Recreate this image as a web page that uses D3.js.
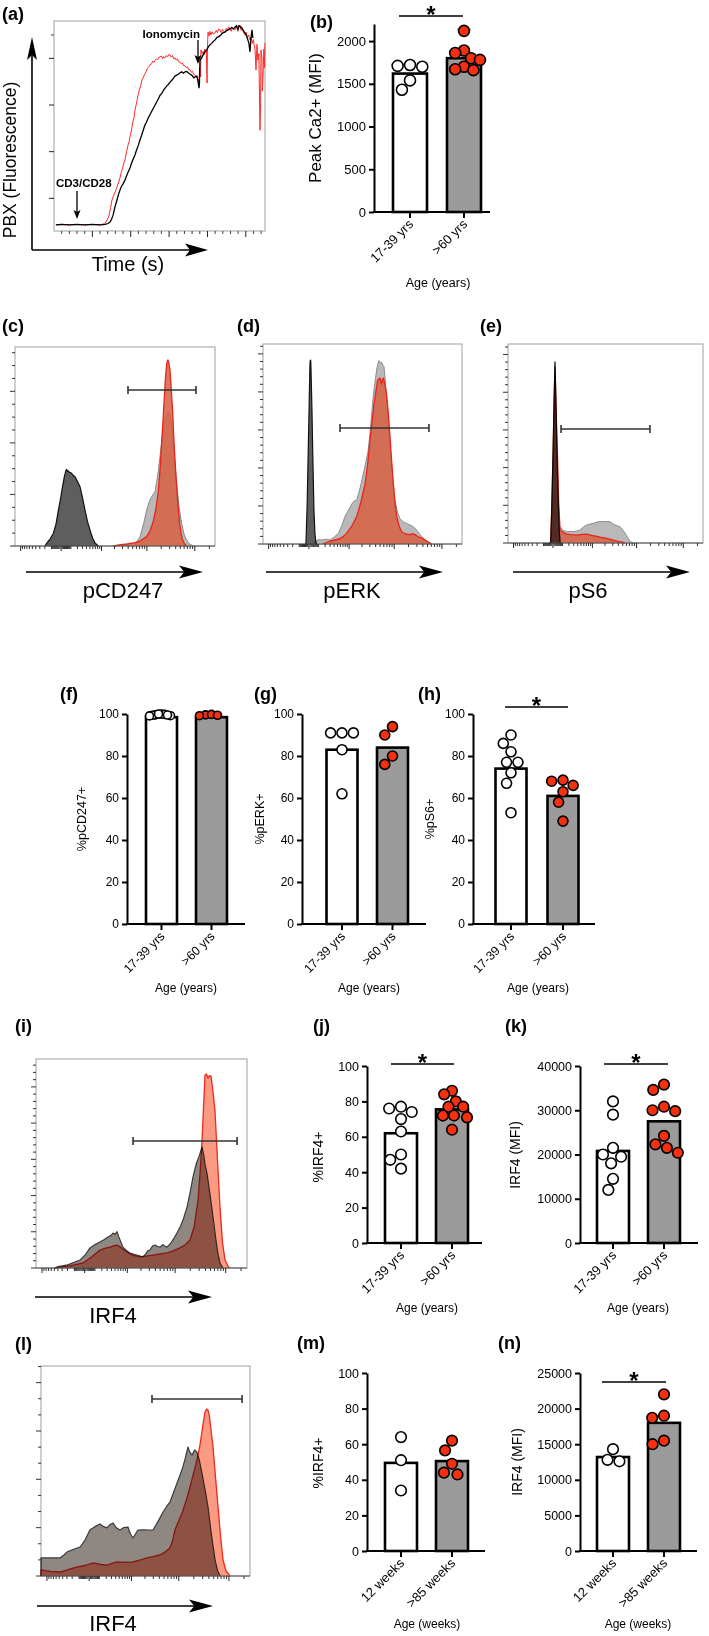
<!DOCTYPE html>
<html><head><meta charset="utf-8">
<script src="https://cdn.jsdelivr.net/npm/d3@7"></script>
<style>body{margin:0;background:#fff}svg{display:block}</style>
</head><body><script>
// ---------------- DATA ----------------
const ageCats = ["17-39 yrs", ">60 yrs"];
const mouseCats = ["12 weeks", ">85 weeks"];

// (a) calcium flux traces [time, fluorescence]
const blackTrace = [[10,43],[40,44],[80,43],[120,44],[160,43],[200,44],[240,43],[266,44],[282,46],[292,49],[300,55],[308,64],[318,82],[328,96],[336,108],[344,118],[352,126],[360,131],[370,139],[378,148],[386,156],[396,165],[404,175],[412,183],[422,193],[430,203],[440,214],[448,225],[456,234],[466,247],[474,257],[482,263],[490,271],[500,279],[510,287],[518,293],[527,300],[536,307],[544,313],[553,321],[562,325],[570,331],[579,336],[588,341],[596,344],[605,349],[614,353],[622,357],[631,362],[640,364],[648,366],[657,369],[666,371],[675,368],[683,371],[692,372],[700,369],[709,366],[718,364],[726,360],[730,358],[738,361],[745,362],[750,352],[756,336],[758,345],[761,396],[770,401],[778,408],[787,414],[796,418],[804,424],[813,429],[822,432],[830,436],[839,439],[848,444],[856,446],[865,448],[874,452],[882,455],[891,456],[900,459],[908,461],[917,463],[926,466],[935,463],[944,467],[952,470],[959,461],[965,470],[970,469],[978,465],[986,460],[996,454],[1004,448],[1011,439],[1016,432],[1022,414],[1026,440],[1032,461],[1037,444]];
const redTrace = [[10,43],[40,44],[80,43],[120,44],[160,43],[200,44],[240,43],[250,44],[262,46],[271,49],[280,56],[287,64],[295,80],[302,96],[312,107],[323,118],[334,131],[344,144],[352,158],[358,165],[364,176],[370,182],[378,200],[386,214],[392,222],[397,234],[401,240],[406,251],[412,265],[417,272],[422,289],[428,300],[433,310],[438,321],[445,332],[452,342],[459,354],[466,360],[473,366],[480,371],[487,378],[494,382],[500,386],[508,388],[515,394],[520,391],[527,396],[534,399],[540,397],[546,402],[553,403],[560,405],[566,399],[572,404],[579,401],[586,406],[592,403],[598,408],[605,407],[612,402],[618,406],[624,399],[631,401],[638,396],[644,399],[650,393],[657,392],[664,388],[670,390],[676,384],[683,384],[690,380],[696,382],[702,376],[709,375],[716,370],[722,372],[728,366],[735,364],[742,360],[748,357],[752,355],[756,351],[760,380],[764,360],[766,418],[772,410],[778,415],[782,407],[786,420],[790,413],[794,418],[798,347],[800,420],[803,456],[808,448],[812,458],[818,450],[824,457],[830,452],[839,454],[846,460],[852,455],[858,463],[865,461],[872,455],[878,462],[884,458],[891,456],[898,464],[904,460],[910,467],[917,465],[924,458],[930,466],[937,462],[944,461],[950,468],[956,463],[962,470],[970,467],[976,460],[982,466],[988,455],[996,450],[1002,456],[1008,445],[1015,450],[1022,439],[1028,446],[1034,432],[1040,440],[1043,429],[1048,420],[1053,375],[1058,430],[1063,396],[1068,410],[1070,360],[1074,246],[1077,300],[1079,418],[1084,400],[1086,330],[1090,364],[1094,420],[1097,380],[1100,433]];
const timeMajorTicks = [200,400,600,800,1000];
const fluoMajorTicks = [100,200,300,400];
const fluoMinorTicks = [450];

// (b)
const peakCaBars = [1620, 1800];
const peakCaYoung = [1720, 1710, 1700, 1540, 1430];
const peakCaOld = [2120, 1890, 1860, 1800, 1780, 1700, 1670, 1660];
const peakCaTicks = [0,500,1000,1500,2000];

// (f)(g)(h)
const pctTicks = [0,20,40,60,80,100];
const pCD247Bars = [98.5, 98.5];
const pCD247Young = [100, 99.6, 99.2, 99.8, 99.4, 100, 99.5, 99.1];
const pCD247Old = [99.6, 99.2, 99.8, 99.4];
const pERKBars = [83, 84];
const pERKYoung = [91, 91, 91, 83, 62];
const pERKOld = [94, 90, 80, 76];
const pS6Bars = [74, 61];
const pS6Young = [90, 86, 82, 77, 77, 72, 67, 53];
const pS6Old = [68.5, 68, 66, 63, 58, 49];

// (j)(k)
const irf4PctBars = [62, 75.5];
const irf4PctYoung = [77, 76, 74, 70, 63, 50, 47, 42];
const irf4PctOld = [86, 84, 80, 77, 77, 72, 72, 71, 64];
const irf4MfiTicks = [0,10000,20000,30000,40000];
const irf4MfiBars = [20800, 27500];
const irf4MfiYoung = [32000, 29000, 21500, 20000, 19500, 18000, 14500, 12000];
const irf4MfiOld = [35800, 34600, 30800, 30000, 29800, 24200, 22300, 21500, 20400];

// (m)(n)
const mIrf4PctBars = [49.5, 50.5];
const mIrf4PctYoung = [64, 51, 34];
const mIrf4PctOld = [62, 56.5, 49, 44, 43];
const mIrf4MfiTicks = [0,5000,10000,15000,20000,25000];
const mIrf4MfiBars = [13200, 18000];
const mIrf4MfiYoung = [14300, 12800, 12600];
const mIrf4MfiOld = [22000, 19000, 18700, 15500, 15000];

// flow histograms [channel 0-1000, % of max height]
const cGray = [[600,0],[605,1.5],[625,4.7],[645,12],[658,18],[670,22],[683,24.8],[700,27.3],[708,32],[717,38],[725,45],[733,51.7],[742,58],[750,63],[758,66],[767,67.5],[772,67],[778,65],[785,59],[792,51.7],[800,41],[808,31.7],[820,20],[833,11.5],[845,6],[858,3],[870,1.2],[883,0.5],[890,0]];
const cRed = [[492,0],[520,0.5],[560,1],[592,1.5],[625,2.5],[658,4.7],[675,7.5],[692,12.6],[705,19],[717,28],[725,38],[733,51.7],[740,63],[747,75],[752,84],[758,91],[762,93],[765,93.5],[769,92],[775,88.4],[781,79],[788,68],[796,50],[805,34.8],[815,20],[825,9.7],[835,4],[845,1.5],[858,0]];
const cDark = [[150,0],[158,1.3],[175,3.5],[192,6.4],[205,11],[217,18],[228,24],[238,30],[247,35],[255,38],[258,38.5],[262,37.5],[267,37.8],[272,37],[278,36.8],[283,36.5],[290,35.6],[300,34.8],[312,32.5],[325,29.8],[338,24],[350,18],[362,12.5],[375,8],[388,4],[400,1.5],[417,0]];
const dGray = [[258,0],[261,1],[278,2.2],[295,2],[315,2.4],[337,2],[358,3.5],[379,5.3],[395,9],[412,13.7],[430,17],[446,20],[458,21.5],[471,22],[488,28],[504,35],[517,41],[529,47],[542,60],[554,73.7],[563,81],[571,87],[577,90],[583,91.7],[589,90.5],[596,91],[602,89.5],[608,88.7],[614,82],[621,73.7],[630,62],[638,50.3],[650,35],[663,22],[675,16],[688,12.8],[705,11],[722,10.3],[738,9.5],[755,8.7],[772,7],[789,4.7],[805,3],[822,1.5],[847,0]];
const dRed = [[300,0],[337,1.5],[362,2],[387,2.7],[404,3.8],[420,5.3],[446,9],[471,13.7],[492,21],[513,30],[526,40],[538,52],[548,61],[558,70],[567,76],[576,82],[582,82.5],[588,83],[592,81],[596,80],[600,82],[605,83],[612,80],[621,75],[630,65],[638,53.7],[646,42],[655,30],[663,21],[672,13.7],[684,9],[697,6],[718,5],[739,4.7],[752,5.2],[764,4.7],[780,3.6],[797,3],[814,2],[831,1],[847,0]];
const dDark = [[214,0],[216,0.5],[222,20],[228,50],[233,75],[236,90],[238,92],[240,91.5],[243,80],[246,67],[250,45],[256,17],[261,5],[266,0.7],[270,0]];
const eGray = [[262,0],[267,8.2],[280,6.5],[301,5.7],[318,5.8],[335,5.7],[352,6],[369,6.5],[386,8],[403,9],[420,9.5],[438,9.9],[455,10.5],[472,10.7],[490,10.8],[510,10.8],[523,10.7],[536,9.8],[549,9],[562,8.6],[574,8.2],[587,6.8],[600,5],[613,2.8],[626,0.8],[643,0]];
const eRed = [[214,0],[219,0.5],[225,18],[232,46.7],[237,72],[241,88.6],[246,70],[253,46.7],[260,20],[267,6.5],[280,5.5],[301,4.5],[325,4.2],[352,4],[378,4.3],[403,4.5],[430,3.8],[450,3.5],[472,3],[500,2.5],[520,2],[540,1.5],[565,0.8],[591,0.3],[600,0]];
const eDark = [[214,0],[219,0.5],[225,20],[232,50],[237,75],[241,91],[245,75],[250,50],[258,20],[263,6],[267,0.5],[270,0]];
const iGray = [[90,0],[100,0.5],[150,1.5],[209,3.8],[235,6.5],[256,9.6],[280,11.2],[303,12.4],[322,13.5],[341,14.8],[355,15.5],[365,16.7],[375,16.2],[384,17.4],[392,15],[400,13],[412,10],[428,8.4],[445,7.2],[465,6.5],[485,6],[507,5.3],[520,6.8],[530,8.2],[540,8.6],[552,10.5],[564,11],[576,10.3],[588,10],[600,11.2],[610,10.5],[621,10],[640,12],[655,14.5],[668,16.7],[685,20],[700,24],[716,29.2],[730,36],[744,43.5],[760,50],[775,54],[787,57.9],[795,54],[802,49],[810,45.5],[825,35],[839,24.4],[852,14],[862,7],[872,2.4],[886,0]];
const iRed = [[90,0],[110,0.4],[160,1],[223,2.4],[260,5],[303,8.6],[330,9.5],[351,10],[368,10.6],[384,11],[400,10],[412,9],[431,7.7],[460,6],[493,5.3],[520,5.7],[554,6.2],[590,6.8],[621,7.2],[650,8.2],[682,9.6],[706,11],[730,13.4],[750,20],[768,32.5],[778,46],[787,61.2],[794,77],[801,92.3],[808,92.8],[815,90.9],[822,92],[829,91.9],[838,85],[848,75.6],[860,52],[872,29.2],[884,12],[896,3.8],[910,0.8],[919,0]];
const lGray = [[0,0],[0,8.6],[45,8.6],[91,8.6],[110,10],[124,11.4],[150,12.5],[187,13.8],[210,17],[234,21.9],[258,23.5],[282,24.8],[300,23.5],[316,22.9],[330,24.5],[345,25.2],[360,23],[378,21.9],[395,23],[416,23.3],[428,20],[440,18.1],[452,20],[464,21.9],[490,22],[512,21.9],[536,21.9],[560,26],[584,30.5],[600,33],[617,35.2],[635,40],[651,44.3],[665,48],[679,51.9],[690,56],[703,61.4],[712,59],[723,57.6],[735,60],[746,59],[758,55],[770,49],[785,41],[799,32.9],[815,20],[833,7.6],[845,2.5],[857,0]];
const lRed = [[0,0],[0,2.9],[45,2.2],[91,1.9],[130,3],[170,4.2],[210,5],[249,6.2],[280,5.6],[316,5.2],[340,6],[364,6.7],[400,6.5],[440,6.7],[470,7.5],[507,8.6],[540,9.3],[569,10],[595,11.5],[617,13.3],[630,17],[641,21.9],[658,26],[675,30],[695,36],[713,42.4],[730,49],[746,55.2],[760,62],[770,68.6],[778,74],[785,78.1],[792,79.5],[799,79],[806,76],[813,70],[823,61.4],[835,47],[847,32.9],[860,18],[871,7.6],[885,2.5],[904,0]];
// gates [from channel, to channel, height %]
const gateC = [565, 905, 78.4];
const gateD = [387, 834, 58];
const gateE = [272, 728, 57.3];
const gateI = [460, 953, 60.8];
const gateL = [531, 962, 84.3];
const flowMajorTicks = [-1000, 0, 1000, 10000, 100000];
const flowMinorTicks = [-900,-800,-700,-600,-500,-400,-300,-200,-100,-90,-80,-70,-60,-50,-40,-30,-20,-10,10,20,30,40,50,60,70,80,90,100,200,300,400,500,600,700,800,900,2000,3000,4000,5000,6000,7000,8000,9000,20000,30000,40000,50000,60000,70000,80000,90000,200000];

// ---------------- DRAWING ----------------
const FONT = '"Liberation Sans", Arial, Helvetica, sans-serif';
const RED = "#f5300f";
const svg = d3.select("body").append("svg").attr("width",709).attr("height",1636)
  .attr("font-family",FONT);

function txt(g,x,y,s,size,opt={}){
  const t=g.append("text").attr("x",x).attr("y",y).attr("font-size",size).text(s).attr("fill","#000");
  if(opt.bold) t.attr("font-weight","bold");
  if(opt.anchor) t.attr("text-anchor",opt.anchor);
  if(opt.rot!==undefined) t.attr("transform",`rotate(${opt.rot},${x},${y})`);
  return t;
}
function hArrow(g,x0,x1,y,L,h,sw){
  g.append("line").attr("x1",x0).attr("x2",x1-L*0.7).attr("y1",y).attr("y2",y).attr("stroke","#000").attr("stroke-width",sw);
  g.append("path").attr("d",`M${x1},${y}L${x1-L},${y-h}L${x1-L*0.78},${y}L${x1-L},${y+h}Z`).attr("fill","#000");
}
function vArrowUp(g,x,y0,y1,L,h,sw){
  g.append("line").attr("x1",x).attr("x2",x).attr("y1",y0).attr("y2",y1+L*0.7).attr("stroke","#000").attr("stroke-width",sw);
  g.append("path").attr("d",`M${x},${y1}L${x-h},${y1+L}L${x},${y1+L*0.78}L${x+h},${y1+L}Z`).attr("fill","#000");
}
function vArrowDown(g,x,y0,y1,L,h,sw){
  g.append("line").attr("x1",x).attr("x2",x).attr("y1",y0).attr("y2",y1-L*0.7).attr("stroke","#000").attr("stroke-width",sw);
  g.append("path").attr("d",`M${x},${y1}L${x-h},${y1-L}L${x},${y1-L*0.78}L${x+h},${y1-L}Z`).attr("fill","#000");
}

// ----- panel (a)
(function(){
  const g=svg.append("g");
  const L=54,R=265,T=21,B=231;
  const x=d3.scaleLinear().domain([0,1100]).range([L,R]);
  const y=d3.scaleLinear().domain([30,480]).range([B,T]);
  g.append("rect").attr("x",L).attr("y",T).attr("width",R-L).attr("height",B-T).attr("fill","none").attr("stroke","#a0a0a0");
  const minorT=d3.range(40,1100,40).filter(d=>d%200!==0);
  g.selectAll(null).data(timeMajorTicks).join("line").attr("x1",d=>x(d)).attr("x2",d=>x(d)).attr("y1",B).attr("y2",B+6).attr("stroke","#222");
  g.selectAll(null).data(minorT).join("line").attr("x1",d=>x(d)).attr("x2",d=>x(d)).attr("y1",B).attr("y2",B+3).attr("stroke","#444");
  g.selectAll(null).data(fluoMajorTicks).join("line").attr("x1",L-5).attr("x2",L).attr("y1",d=>y(d)).attr("y2",d=>y(d)).attr("stroke","#222");
  g.selectAll(null).data(fluoMinorTicks).join("line").attr("x1",L-3).attr("x2",L).attr("y1",d=>y(d)).attr("y2",d=>y(d)).attr("stroke","#444");
  const line=d3.line().x(d=>x(d[0])).y(d=>y(d[1]));
  g.append("path").datum(redTrace).attr("d",line).attr("fill","none").attr("stroke","#ff2a2a").attr("stroke-width",1);
  g.append("path").datum(blackTrace).attr("d",line).attr("fill","none").attr("stroke","#000").attr("stroke-width",1.3);
  vArrowUp(g,32,250,37,23,5,1.6);
  hArrow(g,32,208,250,23,6.5,1.6);
  txt(g,16,160,"PBX (Fluorescence)",17.5,{anchor:"middle",rot:-90});
  txt(g,128,271,"Time (s)",20,{anchor:"middle"});
  txt(g,2,20,"(a)",18,{bold:true});
  txt(g,200,38,"Ionomycin",11.5,{bold:true,anchor:"end"});
  vArrowDown(g,198,40,64,9,3.5,1.3);
  txt(g,56,187,"CD3/CD28",11.5,{bold:true});
  vArrowDown(g,77,191,219,9,3.5,1.3);
})();

// ----- beeswarm
function swarm(values,y,r,maxHalf){
  const order=values.map((v,i)=>i).sort((a,b)=>values[b]-values[a]);
  const D=2*r+1.4, placed=[], xs=new Array(values.length);
  for(const i of order){
    const yi=y(values[i]);
    const cands=[0];
    for(const p of placed){
      const dy=yi-p.y;
      if(Math.abs(dy)<D){const dx=Math.sqrt(D*D-dy*dy);cands.push(p.x+dx,p.x-dx);}
    }
    cands.sort((a,b)=>Math.abs(a)-Math.abs(b)||a-b);
    const xi=cands.find(c=>placed.every(p=>(c-p.x)**2+(yi-p.y)**2>=D*D-0.01));
    placed.push({x:xi,y:yi});xs[i]=xi;
  }
  const m=d3.max(xs,Math.abs);
  if(m>maxHalf) for(let k=0;k<xs.length;k++) xs[k]*=maxHalf/m;
  return xs;
}

// ----- bar panel
function barPanel(o){
  const g=svg.append("g");
  const y=d3.scaleLinear().domain([0,o.max]).range([o.y0,o.yTop]);
  const x=d3.scalePoint().domain(o.cats).range(o.centers);
  g.selectAll(null).data(o.bars).join("rect")
    .attr("x",(d,i)=>x(o.cats[i])-o.bw/2).attr("y",d=>y(d))
    .attr("width",o.bw).attr("height",d=>o.y0-y(d))
    .attr("fill",(d,i)=>i?"#9b9b9b":"#fff").attr("stroke","#000").attr("stroke-width",2.6);
  const ya=g.append("g").attr("transform",`translate(${o.axisX},0)`)
    .call(d3.axisLeft(y).tickValues(o.ticks).tickSize(5).tickSizeOuter(0).tickPadding(3).tickFormat(d3.format("d")));
  ya.attr("font-family",FONT).attr("font-size",o.tf);
  ya.select(".domain").attr("stroke-width",2);
  ya.selectAll(".tick line").attr("stroke-width",2);
  ya.selectAll(".tick text").attr("fill","#000");
  g.append("line").attr("x1",o.axisX-1).attr("x2",o.endX).attr("y1",o.y0).attr("y2",o.y0).attr("stroke","#000").attr("stroke-width",2);
  g.selectAll(null).data(o.cats).join("line").attr("x1",d=>x(d)).attr("x2",d=>x(d)).attr("y1",o.y0).attr("y2",o.y0+6).attr("stroke","#000").attr("stroke-width",2);
  g.selectAll(null).data(o.cats).join("text").attr("text-anchor","end").attr("font-size",o.cf)
    .attr("transform",d=>`translate(${x(d)+4},${o.y0+13}) rotate(-45)`).text(d=>d);
  o.groups.forEach((vals,gi)=>{
    const offs=swarm(vals,y,o.r,o.maxHalf);
    g.selectAll(null).data(vals).join("circle")
      .attr("cx",(d,i)=>x(o.cats[gi])+offs[i]).attr("cy",d=>y(d)).attr("r",o.r)
      .attr("fill",gi?RED:"#fff").attr("stroke","#000").attr("stroke-width",1.6);
  });
  txt(g,o.yl[0],o.yl[1],o.ylabel,o.ylf,{anchor:"middle",rot:-90});
  txt(g,o.age[0],o.age[1],o.ageLabel,o.af,{anchor:"middle"});
  txt(g,o.pl[0],o.pl[1],o.plabel,18,{bold:true});
  if(o.sig){
    g.append("line").attr("x1",o.sig[0]).attr("x2",o.sig[1]).attr("y1",o.sig[2]).attr("y2",o.sig[2]).attr("stroke","#000").attr("stroke-width",1.5);
    txt(g,(o.sig[0]+o.sig[1])/2,o.sig[2]+6.5,"*",24,{bold:true,anchor:"middle"});
  }
}

barPanel({axisX:374,endX:490,y0:212,yTop:24,max:2200,ticks:peakCaTicks,cats:ageCats,centers:[410,464],bw:34,
  bars:peakCaBars,groups:[peakCaYoung,peakCaOld],r:5.5,maxHalf:16,tf:13,cf:13,
  ylabel:"Peak Ca2+ (MFI)",yl:[321,118],ylf:17,ageLabel:"Age (years)",age:[438,287],af:12.5,plabel:"(b)",pl:[310,28],sig:[399,463,16]});

const FH0=924, FHT=714, FHL=(FH0+FHT)/2;
barPanel({axisX:127,endX:245,y0:FH0,yTop:FHT,max:100,ticks:pctTicks,cats:ageCats,centers:[161.5,211.5],bw:31,
  bars:pCD247Bars,groups:[pCD247Young,pCD247Old],r:4,maxHalf:12,tf:12,cf:12.5,
  ylabel:"%pCD247+",yl:[86,FHL],ylf:12.5,ageLabel:"Age (years)",age:[186,992],af:12,plabel:"(f)",pl:[60,700]});
barPanel({axisX:302,endX:426,y0:FH0,yTop:FHT,max:100,ticks:pctTicks,cats:ageCats,centers:[342,392.5],bw:31,
  bars:pERKBars,groups:[pERKYoung,pERKOld],r:5,maxHalf:15,tf:12,cf:12.5,
  ylabel:"%pERK+",yl:[264,FHL],ylf:12.5,ageLabel:"Age (years)",age:[369,992],af:12,plabel:"(g)",pl:[254,700]});
barPanel({axisX:473,endX:595,y0:FH0,yTop:FHT,max:100,ticks:pctTicks,cats:ageCats,centers:[511,563],bw:31,
  bars:pS6Bars,groups:[pS6Young,pS6Old],r:5,maxHalf:15,tf:12,cf:12.5,
  ylabel:"%pS6+",yl:[434,FHL],ylf:12.5,ageLabel:"Age (years)",age:[538,992],af:12,plabel:"(h)",pl:[418,700],sig:[505,568,707]});

barPanel({axisX:367,endX:482,y0:1243,yTop:1066,max:100,ticks:pctTicks,cats:ageCats,centers:[401,452],bw:32,
  bars:irf4PctBars,groups:[irf4PctYoung,irf4PctOld],r:5.3,maxHalf:15,tf:12.5,cf:13,
  ylabel:"%IRF4+",yl:[323,1157],ylf:14,ageLabel:"Age (years)",age:[427,1312],af:12,plabel:"(j)",pl:[313,1032],sig:[391,454,1064]});
barPanel({axisX:580,endX:698,y0:1243,yTop:1066,max:40000,ticks:irf4MfiTicks,cats:ageCats,centers:[613,664],bw:32,
  bars:irf4MfiBars,groups:[irf4MfiYoung,irf4MfiOld],r:5.3,maxHalf:15,tf:12.5,cf:13,
  ylabel:"IRF4 (MFI)",yl:[520,1155],ylf:14,ageLabel:"Age (years)",age:[638,1312],af:12,plabel:"(k)",pl:[505,1032],sig:[604,668,1064]});
barPanel({axisX:367,endX:485,y0:1551,yTop:1373,max:100,ticks:pctTicks,cats:mouseCats,centers:[401,452],bw:32,
  bars:mIrf4PctBars,groups:[mIrf4PctYoung,mIrf4PctOld],r:5.3,maxHalf:15,tf:12.5,cf:13,
  ylabel:"%IRF4+",yl:[323,1463],ylf:14,ageLabel:"Age (weeks)",age:[427,1628],af:12,plabel:"(m)",pl:[297,1349]});
barPanel({axisX:580,endX:697,y0:1551,yTop:1373,max:25000,ticks:mIrf4MfiTicks,cats:mouseCats,centers:[613,664],bw:32,
  bars:mIrf4MfiBars,groups:[mIrf4MfiYoung,mIrf4MfiOld],r:5.3,maxHalf:15,tf:12.5,cf:13,
  ylabel:"IRF4 (MFI)",yl:[522,1462],ylf:14,ageLabel:"Age (weeks)",age:[638,1628],af:12,plabel:"(n)",pl:[498,1349],sig:[602,666,1382]});

// ----- flow panels
function flowPanel(o){
  const g=svg.append("g");
  const xc=d3.scaleLinear().domain([0,1000]).range([o.x0,o.x1]);
  const yp=d3.scaleLinear().domain([0,100]).range([o.y1,o.y0]);
  const xs=d3.scaleSymlog().constant(170).domain([-1365,262144]).range([o.x0,o.x1]);
  const yc=d3.scaleLinear().domain([0,o.cmax]).range([o.y1,o.y0]);
  g.append("rect").attr("x",o.x0).attr("y",o.y0).attr("width",o.x1-o.x0).attr("height",o.y1-o.y0).attr("fill","none").attr("stroke","#a0a0a0");
  const area=d3.area().x(d=>xc(d[0])).y0(o.y1).y1(d=>yp(d[1]));
  const line=d3.line().x(d=>xc(d[0])).y(d=>yp(d[1]));
  o.layers.forEach(l=>{
    const lg=g.append("g");
    if(l.blend) lg.style("mix-blend-mode",l.blend);
    lg.append("path").datum(l.data).attr("d",area).attr("fill",l.fill);
    lg.append("path").datum(l.data).attr("d",line).attr("fill","none").attr("stroke",l.stroke).attr("stroke-width",l.sw).attr("stroke-linejoin","round");
  });
  g.append("line").attr("x1",o.x0).attr("x2",o.x1).attr("y1",o.y1).attr("y2",o.y1).attr("stroke","#555");
  const majY=d3.range(0,o.cmax+0.01,o.cmaj), minY=d3.range(0,o.cmax+0.01,o.cmin).filter(v=>Math.abs(v/o.cmaj-Math.round(v/o.cmaj))>1e-6);
  g.selectAll(null).data(majY).join("line").attr("x1",o.x0-5).attr("x2",o.x0).attr("y1",d=>yc(d)).attr("y2",d=>yc(d)).attr("stroke","#333");
  g.selectAll(null).data(minY).join("line").attr("x1",o.x0-3).attr("x2",o.x0).attr("y1",d=>yc(d)).attr("y2",d=>yc(d)).attr("stroke","#333");
  g.selectAll(null).data(flowMajorTicks).join("line").attr("x1",d=>xs(d)).attr("x2",d=>xs(d)).attr("y1",o.y1).attr("y2",o.y1+5).attr("stroke","#222");
  g.selectAll(null).data(flowMinorTicks).join("line").attr("x1",d=>xs(d)).attr("x2",d=>xs(d)).attr("y1",o.y1).attr("y2",o.y1+3).attr("stroke","#333");
  const gy=yp(o.gate[2]), gx0=xc(o.gate[0]), gx1=xc(o.gate[1]);
  g.append("line").attr("x1",gx0).attr("x2",gx1).attr("y1",gy).attr("y2",gy).attr("stroke","#333").attr("stroke-width",1.6);
  [gx0,gx1].forEach(v=>g.append("line").attr("x1",v).attr("x2",v).attr("y1",gy-4).attr("y2",gy+4).attr("stroke","#333").attr("stroke-width",1.6));
  hArrow(g,o.ax[0],o.ax[1],o.ax[2],24,6.5,1.6);
  txt(g,o.lab[0],o.lab[1],o.label,22,{anchor:"middle"});
  if(o.plabel) txt(g,o.pl[0],o.pl[1],o.plabel,18,{bold:true});
}
const redFillCDE="rgba(215,95,65,0.85)";
flowPanel({x0:15,x1:215,y0:347,y1:546,cmax:386,cmaj:100,cmin:25,gate:gateC,
  layers:[{data:cGray,fill:"#b9b9b9",stroke:"#8c8c8c",sw:1},{data:cRed,fill:redFillCDE,stroke:"#e8251a",sw:1.3},{data:cDark,fill:"#5e5e5e",stroke:"#111",sw:1.2,blend:"multiply"}],
  ax:[26,203,572],label:"pCD247",lab:[123,598],plabel:"(c)",pl:[2,332]});
flowPanel({x0:263,x1:462,y0:344,y1:544,cmax:526,cmaj:100,cmin:20,gate:gateD,
  layers:[{data:dGray,fill:"#b9b9b9",stroke:"#8c8c8c",sw:1},{data:dRed,fill:redFillCDE,stroke:"#e8251a",sw:1.3},{data:dDark,fill:"#5e5e5e",stroke:"#111",sw:1.2,blend:"multiply"}],
  ax:[266,443,572],label:"pERK",lab:[352,598],plabel:"(d)",pl:[237,332]});
flowPanel({x0:508,x1:703,y0:344,y1:543,cmax:528,cmaj:100,cmin:20,gate:gateE,
  layers:[{data:eGray,fill:"#b9b9b9",stroke:"#8c8c8c",sw:1},{data:eRed,fill:redFillCDE,stroke:"#e8251a",sw:1.3},{data:eDark,fill:"#5e5e5e",stroke:"#111",sw:1.2,blend:"multiply"}],
  ax:[513,690,572],label:"pS6",lab:[588,598],plabel:"(e)",pl:[480,332]});
flowPanel({x0:36,x1:247,y0:1059,y1:1268,cmax:577,cmaj:100,cmin:20,gate:gateI,
  layers:[{data:iRed,fill:"#fb9a82",stroke:"#f0281e",sw:1.3},{data:iGray,fill:"#8f8782",stroke:"#3a3a3a",sw:1.2,blend:"multiply"}],
  ax:[35,212,1297],label:"IRF4",lab:[113,1323],plabel:"(i)",pl:[15,1032]});
flowPanel({x0:41,x1:250,y0:1366,y1:1576,cmax:391,cmaj:90,cmin:30,gate:gateL,
  layers:[{data:lRed,fill:"#fb9a82",stroke:"#f0281e",sw:1.3},{data:lGray,fill:"#8f8782",stroke:"#3a3a3a",sw:1.2,blend:"multiply"}],
  ax:[37,213,1606],label:"IRF4",lab:[113,1631],plabel:"(l)",pl:[15,1350]});
</script></body></html>
